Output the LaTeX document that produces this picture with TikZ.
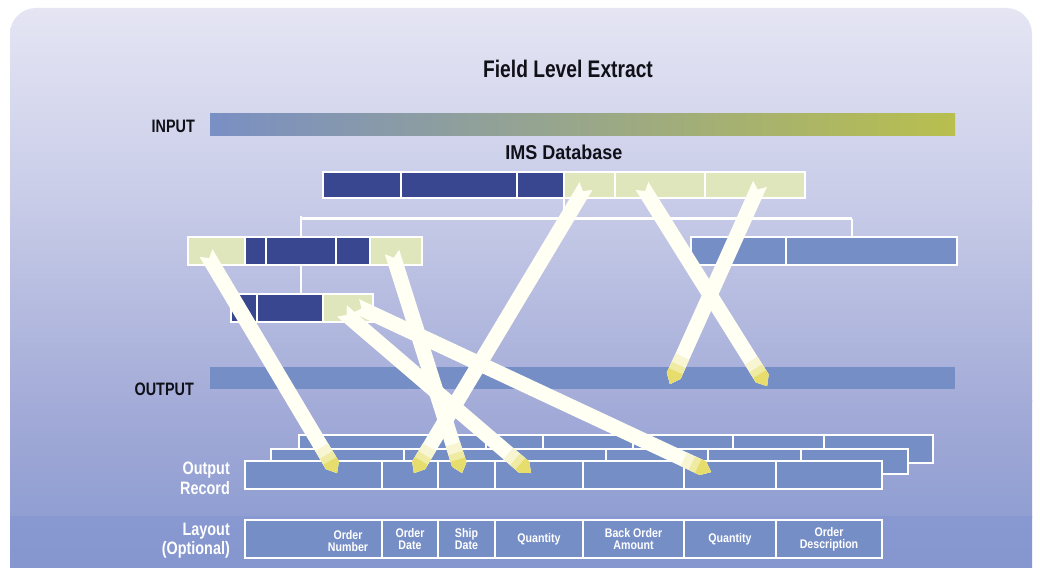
\documentclass[tikz,border=0pt]{standalone}
\usepackage{fontspec}
\setmainfont{Liberation Sans}
\newfontfamily\cndA[FakeStretch=0.8]{Liberation Sans}
\newfontfamily\cndB[FakeStretch=0.9]{Liberation Sans}
\newfontfamily\cndC[FakeStretch=0.85]{Liberation Sans}
\usetikzlibrary{calc}
\definecolor{bgA}{HTML}{E6E6F4}
\definecolor{bgB}{HTML}{C8CCE8}
\definecolor{bgC}{HTML}{A4ACD8}
\definecolor{bgD}{HTML}{909ED2}
\definecolor{bgE}{HTML}{8898D0}
\definecolor{bgF}{HTML}{8292CC}
\definecolor{darkc}{HTML}{384790}
\definecolor{lightc}{HTML}{DFE6BB}
\definecolor{midc}{HTML}{768EC6}
\definecolor{inA}{HTML}{7A8FC4}
\definecolor{inB}{HTML}{8E9EA2}
\definecolor{inC}{HTML}{B8BF4E}
\definecolor{beamc}{HTML}{FFFFF4}
\definecolor{tipA}{HTML}{F8F5D2}
\definecolor{tipB}{HTML}{F0EBA2}
\definecolor{tipC}{HTML}{E6DD6C}
\definecolor{txt}{HTML}{101018}
\newcommand\cellat[6]{\node[#6, minimum width={(#4)-(#2)}, minimum height={(#5)-(#3)}, anchor=north west] (#1) at (#2,#3) {};}
\newcommand\beam[1]{%
  \coordinate (#1n) at ($(#1s)!6pt!(#1e)$);
  \coordinate (#1h) at ($(#1e)!9pt!(#1s)$);
  \fill[beamc] ($(#1s)!7.5pt!90:(#1e)$) -- (#1n) -- ($(#1s)!7.5pt!-90:(#1e)$) -- ($(#1h)!7.5pt!-90:(#1e)$) -- (#1e) -- ($(#1h)!7.5pt!90:(#1e)$) -- cycle;
  \foreach \d/\c in {30pt/tipA,21pt/tipB,14pt/tipC}{%
    \coordinate (#1b) at ($(#1e)!\d!(#1s)$);
    \fill[\c] ($(#1b)!7.5pt!90:(#1e)$) -- ($(#1h)!7.5pt!90:(#1e)$) -- (#1e) -- ($(#1h)!7.5pt!-90:(#1e)$) -- ($(#1b)!7.5pt!-90:(#1e)$) -- cycle;
  }}
\begin{document}
\begin{tikzpicture}[x=1pt,y=-1pt,
  cellbase/.style={rectangle, inner sep=0pt, outer sep=0pt, draw=white, line width=1.3pt},
  dcell/.style={cellbase, fill=darkc},
  lcell/.style={cellbase, fill=lightc},
  mcell/.style={cellbase, fill=midc},
  treeline/.style={draw=white, line width=2.6pt},
  lbl/.style={font=\cndA\bfseries\fontsize{18}{20}\selectfont, text=txt, inner sep=0pt},
  wlbl/.style={font=\cndA\bfseries\fontsize{18}{20}\selectfont, text=white, inner sep=0pt},
  clbl/.style={font=\cndC\bfseries\fontsize{12.5}{12}\selectfont, text=white, align=center, inner sep=0pt}
]
\useasboundingbox (0,0) rectangle (1040,567);
\fill[white] (0,0) rectangle (1040,567);
% background panel
\begin{scope}
  \clip[rounded corners=26pt] (10,8) rectangle (1032,640);
  \shade[top color=bgA, bottom color=bgB] (0,0) rectangle (1040,201);
  \shade[top color=bgB, bottom color=bgC] (0,200) rectangle (1040,401);
  \shade[top color=bgC, bottom color=bgD] (0,400) rectangle (1040,517);
  \shade[top color=bgE, bottom color=bgF] (0,516) rectangle (1040,640);
\end{scope}
% title and labels
\node[font=\cndA\bfseries\fontsize{24}{26}\selectfont, text=txt, inner sep=0pt, anchor=base] (title) at (568,78) {Field Level Extract};
\node[lbl, anchor=base east] (inlbl) at (195,132) {INPUT};
\cellat{inbar}{210}{113}{955}{135}{rectangle, inner sep=0pt, left color=inA, middle color=inB, right color=inC}
\node[font=\cndB\bfseries\fontsize{20}{22}\selectfont, text=txt, inner sep=0pt, anchor=base] (ims) at (564,159) {IMS Database};
% top segment
\cellat{t1}{323}{172}{401}{198}{dcell}
\cellat{t2}{401}{172}{517}{198}{dcell}
\cellat{t3}{517}{172}{564}{198}{dcell}
\cellat{t4}{564}{172}{615}{198}{lcell}
\cellat{t5}{615}{172}{705}{198}{lcell}
\cellat{t6}{705}{172}{805}{198}{lcell}
% tree lines
\coordinate (busL) at (301,218.5);
\coordinate (busR) at (852,218.5);
\draw[treeline] (busL) -- (busR);
\draw[treeline] (t4.south west) -- (t4.south west |- busL);
\draw[treeline] ([yshift=3pt]busL) -- (301,237);
\draw[treeline] (busR) -- (852,237);
\draw[treeline] (301,265) -- (301,294);
% left block
\cellat{l1}{188}{237}{245}{265}{lcell}
\cellat{l2}{245}{237}{266}{265}{dcell}
\cellat{l3}{266}{237}{336}{265}{dcell}
\cellat{l4}{336}{237}{370}{265}{dcell}
\cellat{l5}{370}{237}{422}{265}{lcell}
% third block
\cellat{m1}{231}{294}{257}{322}{dcell}
\cellat{m2}{257}{294}{323}{322}{dcell}
\cellat{m3}{323}{294}{373}{322}{lcell}
% right block
\cellat{r1}{691}{237}{786}{265}{mcell}
\cellat{r2}{786}{237}{957}{265}{mcell}
% output
\node[lbl, anchor=base east] (outlbl) at (194,395) {OUTPUT};
\cellat{outbar}{210}{367}{955}{389}{rectangle, inner sep=0pt, fill=midc}
% output record rows (back, middle, front)
\cellat{b1}{299}{435}{486}{463}{mcell}
\cellat{b2}{486}{435}{543}{463}{mcell}
\cellat{b3}{543}{435}{633}{463}{mcell}
\cellat{b4}{633}{435}{733}{463}{mcell}
\cellat{b5}{733}{435}{824}{463}{mcell}
\cellat{b6}{824}{435}{933}{463}{mcell}
\cellat{c1}{271}{449}{404}{474}{mcell}
\cellat{c2}{404}{449}{606}{474}{mcell}
\cellat{c3}{606}{449}{708}{474}{mcell}
\cellat{c4}{708}{449}{801}{474}{mcell}
\cellat{c5}{801}{449}{908}{474}{mcell}
\cellat{f1}{245}{461}{382}{489}{mcell}
\cellat{f2}{382}{461}{438}{489}{mcell}
\cellat{f3}{438}{461}{495}{489}{mcell}
\cellat{f4}{495}{461}{583}{489}{mcell}
\cellat{f5}{583}{461}{684}{489}{mcell}
\cellat{f6}{684}{461}{776}{489}{mcell}
\cellat{f7}{776}{461}{882}{489}{mcell}
\node[wlbl, anchor=base east] (orl1) at (230,474) {Output};
\node[wlbl, anchor=base east] (orl2) at (230,494) {Record};
% layout row
\cellat{y1}{245}{520}{382}{558}{mcell}
\cellat{y2}{382}{520}{438}{558}{mcell}
\cellat{y3}{438}{520}{495}{558}{mcell}
\cellat{y4}{495}{520}{583}{558}{mcell}
\cellat{y5}{583}{520}{684}{558}{mcell}
\cellat{y6}{684}{520}{776}{558}{mcell}
\cellat{y7}{776}{520}{882}{558}{mcell}
\node[wlbl, anchor=base east] (lyl1) at (230,535) {Layout};
\node[wlbl, anchor=base east] (lyl2) at (230,554) {(Optional)};
\node[clbl] (ty1) at (348,541) {Order\\Number};
\node[clbl] (ty2) at (y2) {Order\\Date};
\node[clbl] (ty3) at (y3) {Ship\\Date};
\node[clbl] (ty4) at (y4) {Quantity};
\node[clbl] (ty5) at (y5) {Back Order\\Amount};
\node[clbl] (ty6) at (y6) {Quantity};
\node[clbl] (ty7) at (y7) {Order\\Description};
% beams
\coordinate (a1s) at (206,253); \coordinate (a1e) at (337,473);
\coordinate (a2s) at (392,252); \coordinate (a2e) at (462,473);
\coordinate (a3s) at (342,311); \coordinate (a3e) at (531,473);
\coordinate (a4s) at (356,306); \coordinate (a4e) at (711,472);
\coordinate (a5s) at (586,186); \coordinate (a5e) at (414,473);
\coordinate (a6s) at (642,186); \coordinate (a6e) at (767,386);
\coordinate (a7s) at (760,184); \coordinate (a7e) at (670,384);
\beam{a7}\beam{a6}\beam{a4}\beam{a3}\beam{a2}\beam{a5}\beam{a1}
\end{tikzpicture}
\end{document}
